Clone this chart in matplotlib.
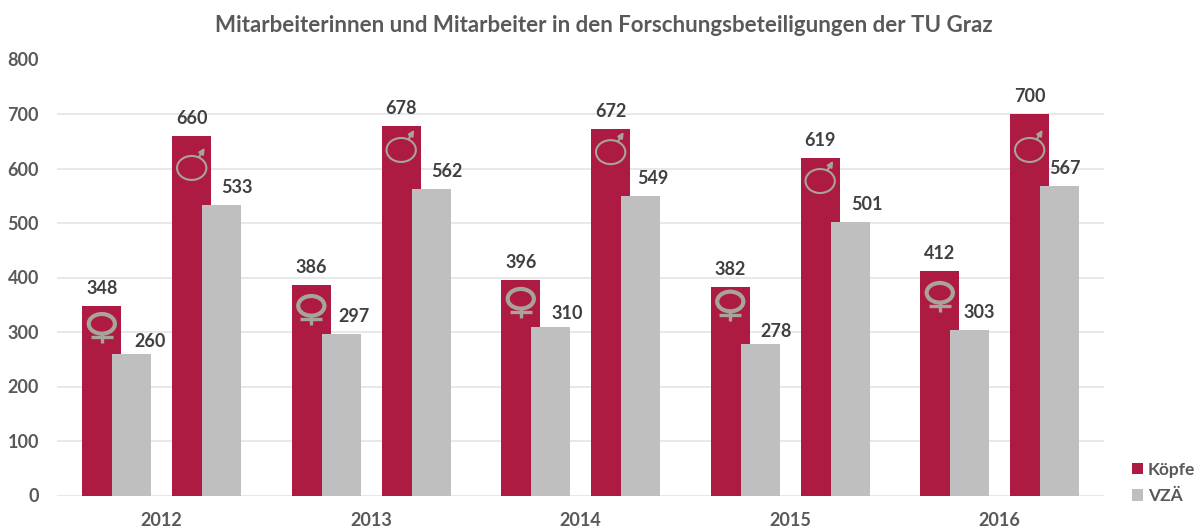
import numpy as np
import matplotlib
matplotlib.use("Agg")
import matplotlib.pyplot as plt
from matplotlib.patches import Ellipse

years = ["2012", "2013", "2014", "2015", "2016"]
frauen_koepfe = [348, 386, 396, 382, 412]
frauen_vzae = [260, 297, 310, 278, 303]
maenner_koepfe = [660, 678, 672, 619, 700]
maenner_vzae = [533, 562, 549, 501, 567]

# how far the gender symbols sit below the top of the bar (in y units)
frauen_sym_drop = [33, 38, 35, 26, 40]
maenner_sym_drop = [59, 44, 42, 42, 66]

# label nudges for the VZÄ bars, in points
frauen_dx = [13.5, 9.5, 12, 11.5, 7]
maenner_dx = [11, 11.5, 8.5, 12, 3.5]
frauen_dy = [3, 6.5, 3, 3, 6.5]

RED = "#ad1a42"
GREY = "#bfbfbf"
SYM = "#a8a39b"
TXT = "#404040"
TICK = "#595959"

plt.rcParams["font.family"] = ["Lato", "DejaVu Sans"]
plt.rcParams["font.weight"] = "bold"

fig = plt.figure(figsize=(12.01, 5.29), dpi=100)
ax = fig.add_axes([57 / 1201, 1 - 495.5 / 529, (1104 - 57) / 1201, 436 / 529])

x = np.arange(len(years))
w = 0.186
off_in = 0.143
off_out = 0.286

ax.bar(x - off_out, frauen_koepfe, w, color=RED, zorder=2, label="Köpfe")
ax.bar(x - off_in, frauen_vzae, w, color=GREY, zorder=3, label="VZÄ")
ax.bar(x + off_in, maenner_koepfe, w, color=RED, zorder=2)
ax.bar(x + off_out, maenner_vzae, w, color=GREY, zorder=3)


def label(xp, val, dx, dy=6.5):
    ax.annotate(str(val), (xp, val), xytext=(dx, dy), textcoords="offset points",
                ha="center", va="bottom", fontsize=13, color=TXT, zorder=5)


for i in range(len(years)):
    label(x[i] - off_out, frauen_koepfe[i], 0)
    label(x[i] - off_in, frauen_vzae[i], frauen_dx[i], frauen_dy[i])
    label(x[i] + off_in, maenner_koepfe[i], 0)
    label(x[i] + off_out, maenner_vzae[i], maenner_dx[i])

    # female symbol
    cx = x[i] - off_out
    cy = frauen_koepfe[i] - frauen_sym_drop[i]
    ax.add_patch(Ellipse((cx, cy), 0.125, 36, fill=False, ec=SYM, lw=3, zorder=4))
    ax.plot([cx, cx], [cy - 18, cy - 36], color=SYM, lw=2.4, zorder=4, solid_capstyle="butt")
    ax.plot([cx - 0.052, cx + 0.052], [cy - 25, cy - 25], color=SYM, lw=2.4, zorder=4, solid_capstyle="butt")

    # male symbol
    cx = x[i] + off_in
    cy = maenner_koepfe[i] - maenner_sym_drop[i]
    ax.add_patch(Ellipse((cx, cy), 0.14, 44, fill=False, ec=SYM, lw=1.5, zorder=4))
    ax.annotate("", xy=(cx + 0.062, cy + 37), xytext=(cx + 0.035, cy + 20),
                arrowprops=dict(arrowstyle="-|>", color=SYM, lw=1.5, mutation_scale=8,
                                shrinkA=0, shrinkB=0), zorder=4)

ax.set_xlim(-0.5, 4.498)
ax.set_ylim(0, 800)
ax.set_yticks(np.arange(0, 900, 100))
ax.set_xticks(x)
ax.set_xticklabels(years)
ax.grid(axis="y", color="#e2e2e2", lw=1.1, zorder=0)
ax.set_axisbelow(True)
ax.tick_params(length=0, labelsize=13, labelcolor=TICK)
ax.tick_params(axis="x", pad=12)
ax.tick_params(axis="y", pad=13)
for s in ax.spines.values():
    s.set_visible(False)

fig.text(604 / 1201, 1 - 25 / 529, "Mitarbeiterinnen und Mitarbeiter in den Forschungsbeteiligungen der TU Graz",
         ha="center", va="center", fontsize=16, color=TICK)

ax.legend(loc="lower left", bbox_to_anchor=(1.0265, -0.02), frameon=False,
          handlelength=0.62, handleheight=0.62, handletextpad=0.3, labelspacing=0.6,
          fontsize=12.5, labelcolor=TICK, borderpad=0, borderaxespad=0)

fig.savefig("out.png", dpi=100)
